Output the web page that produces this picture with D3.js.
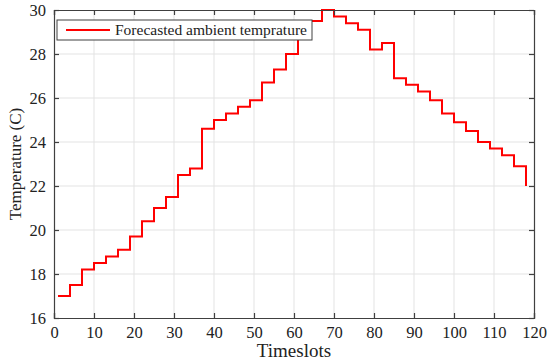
<!DOCTYPE html>
<html><head><meta charset="utf-8">
<script src="https://cdn.jsdelivr.net/npm/d3@7"></script>
<style>body{margin:0;background:#fff}svg{display:block}text{font-family:'Liberation Serif','Times New Roman',serif}</style>
</head><body>
<script>
const timeslots = [1,4,7,10,13,16,19,22,25,28,31,34,37,40,43,46,49,52,55,58,61,64,67,70,73,76,79,82,85,88,91,94,97,100,103,106,109,112,115,118];
const temperature = [17.0,17.5,18.2,18.5,18.8,19.1,19.7,20.4,21.0,21.5,22.5,22.8,24.6,25.0,25.3,25.6,25.9,26.7,27.3,28.0,29.5,29.5,30.0,29.7,29.4,29.1,28.2,28.5,26.9,26.6,26.3,25.9,25.3,24.9,24.5,24.0,23.7,23.4,22.9,22.0];
const xTicks = [0,10,20,30,40,50,60,70,80,90,100,110,120];
const yTicks = [16,18,20,22,24,26,28,30];
const seriesName = "Forecasted ambient temprature";
const xLabel = "Timeslots";
const yLabel = "Temperature (C)";

const W=550,H=364, L=54, R=534, T=10, B=318;
const svg=d3.select("body").append("svg").attr("width",W).attr("height",H);
const x=d3.scaleLinear().domain([0,120]).range([L,R]);
const y=d3.scaleLinear().domain([16,30]).range([B,T]);
const font="'Liberation Serif', 'Times New Roman', serif";
const axisCol="#404040";

// grid
svg.append("g").selectAll("line").data(xTicks.slice(1,-1)).join("line")
 .attr("x1",d=>x(d)).attr("x2",d=>x(d)).attr("y1",T).attr("y2",B)
 .attr("stroke","#e3e3e3").attr("stroke-width",1);
svg.append("g").selectAll("line").data(yTicks.slice(1,-1)).join("line")
 .attr("y1",d=>y(d)).attr("y2",d=>y(d)).attr("x1",L).attr("x2",R)
 .attr("stroke","#e3e3e3").attr("stroke-width",1);

// line
const line=d3.line().x(d=>x(d[0])).y(d=>y(d[1])).curve(d3.curveStepAfter);
svg.append("path").datum(timeslots.map((t,i)=>[t,temperature[i]]))
 .attr("d",line).attr("fill","none").attr("stroke","#ff0000").attr("stroke-width",2);

// axes
const ax=svg.append("g").attr("transform",`translate(0,${B})`)
 .call(d3.axisBottom(x).tickValues(xTicks).tickSize(-5).tickPadding(8));
const ay=svg.append("g").attr("transform",`translate(${L},0)`)
 .call(d3.axisLeft(y).tickValues(yTicks).tickSize(-5).tickPadding(8));
const axt=svg.append("g").attr("transform",`translate(0,${T})`)
 .call(d3.axisTop(x).tickValues(xTicks).tickSize(-5).tickFormat(""));
const ayr=svg.append("g").attr("transform",`translate(${R},0)`)
 .call(d3.axisRight(y).tickValues(yTicks).tickSize(-5).tickFormat(""));
[ax,ay,axt,ayr].forEach(g=>{
  g.attr("font-family",null);
  g.select(".domain").attr("stroke",axisCol).attr("stroke-width",1.2);
  g.selectAll(".tick line").attr("stroke",axisCol).attr("stroke-width",1.2);
  g.selectAll("text").style("font-family",font).style("font-size","16.5px").attr("fill","#222");
});

// labels
svg.append("text").attr("x",(L+R)/2).attr("y",357).attr("text-anchor","middle")
 .style("font-family",font).style("font-size","19px").attr("fill","#222").text(xLabel);
svg.append("text").attr("transform",`translate(21,${(T+B)/2}) rotate(-90)`).attr("text-anchor","middle")
 .style("font-family",font).style("font-size","17px").attr("fill","#222").text(yLabel);

// legend
const lg=svg.append("g");
lg.append("rect").attr("x",57).attr("y",20).attr("width",255).attr("height",20)
 .attr("fill","#fff").attr("stroke",axisCol).attr("stroke-width",1);
lg.append("line").attr("x1",66).attr("x2",110).attr("y1",30).attr("y2",30)
 .attr("stroke","#ff0000").attr("stroke-width",2);
lg.append("text").attr("x",115).attr("y",30).attr("dy","0.35em")
 .style("font-family",font).style("font-size","15.5px").attr("fill","#222").text(seriesName);
</script>
</body></html>
